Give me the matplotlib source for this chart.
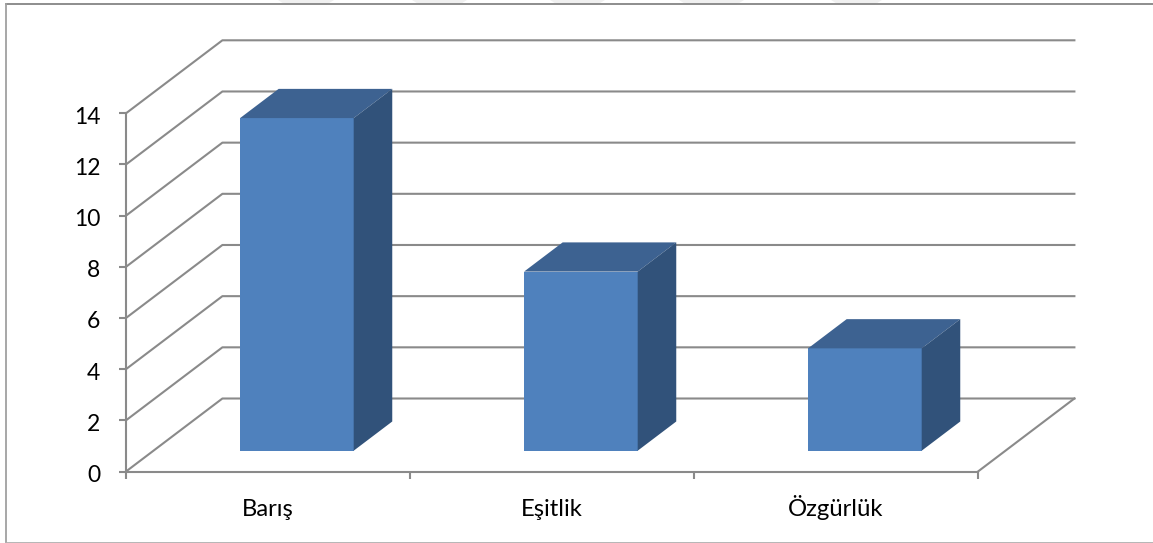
import matplotlib
matplotlib.use('Agg')
import matplotlib.pyplot as plt
from matplotlib.transforms import ScaledTranslation

# Values
categories = ['Barış', 'Eşitlik', 'Özgürlük']
values = [13, 7, 4]
y_ticks = [0, 2, 4, 6, 8, 10, 12, 14]

W, H = 1153, 543
GRID = '#8a8a8a'
FRONT = '#4f81bd'
TOP = '#3d6291'
SIDE = '#31527a'

# Oblique offset of the back wall, in data units
DX = 96.4 / 284
DY = 73 / (358.2 / 14)
BAR_W = 0.4
BAR_D0 = 0.285  # how far back the bars start (0-1)
BAR_D1 = 0.685  # how far back the bars end


def proj(x, y, d):
    return x + DX * d, y + DY * d


def face(ax, pts, color):
    xs, ys = zip(*[proj(*p) for p in pts])
    ax.fill(xs, ys, color=color, lw=0, clip_on=False, zorder=3)


plt.rcParams['font.family'] = ['Lato', 'DejaVu Sans']

fig = plt.figure(figsize=(W / 100, H / 100), dpi=100)
ax = fig.add_axes([126 / W, (H - 471.5) / H, 852 / W, 358.2 / H])
ax.set_xlim(0, 3)
ax.set_ylim(0, 14)
ax.patch.set_alpha(0)

# Side wall and back wall lines
for v in y_ticks:
    x0, y0 = proj(0, v, 0)
    x1, y1 = proj(0, v, 1)
    x2, y2 = proj(3, v, 1)
    ax.plot([x0, x1, x2], [y0, y1, y2], color=GRID, lw=1.5, clip_on=False, zorder=1)

# Right edge of the floor
x0, y0 = proj(3, 0, 0)
x1, y1 = proj(3, 0, 1)
ax.plot([x0, x1], [y0, y1], color=GRID, lw=1.5, clip_on=False, zorder=1)

# Bars
for i, val in enumerate(values):
    l = i + 0.5 - BAR_W / 2 + 0.005
    r = l + BAR_W
    face(ax, [(l, 0, BAR_D0), (r, 0, BAR_D0), (r, val, BAR_D0), (l, val, BAR_D0)], FRONT)
    face(ax, [(l, val, BAR_D0), (r, val, BAR_D0), (r, val, BAR_D1), (l, val, BAR_D1)], TOP)
    face(ax, [(r, 0, BAR_D0), (r, 0, BAR_D1), (r, val, BAR_D1), (r, val, BAR_D0)], SIDE)

# Axes
for s in ['top', 'right']:
    ax.spines[s].set_visible(False)
for s in ['left', 'bottom']:
    ax.spines[s].set_color(GRID)
    ax.spines[s].set_linewidth(1.5)
ax.set_yticks(y_ticks)
ax.set_xticks([0, 1, 2, 3])
ax.set_xticklabels([])
ax.set_xticks([0.5, 1.5, 2.5], minor=True)
ax.set_xticklabels(categories, minor=True)
ax.tick_params(axis='both', which='major', length=5, width=1.5, color=GRID, labelsize=16.5)
ax.tick_params(axis='y', which='major', pad=13.5)
ax.tick_params(axis='x', which='minor', length=0, labelsize=17.2, pad=31.7)
for label in ax.get_xticklabels(minor=True):
    label.set_verticalalignment('baseline')
shift = ScaledTranslation(0, -2 / 100, fig.dpi_scale_trans)
for label in ax.get_yticklabels():
    label.set_transform(label.get_transform() + shift)

# Outer chart frame, open on the right, with the pale shapes showing through at the top
frame = fig.add_axes([0, 0, 1, 1], zorder=-1)
frame.set_xlim(0, W)
frame.set_ylim(H, 0)
frame.axis('off')
for a, b in [(278, 334), (412, 467), (550, 605), (679, 744), (831, 882)]:
    frame.fill([a, b, b - 8, a + 8], [0, 0, 5, 5], color='#f0f0f0', lw=0)
frame.plot([W, 5.5], [3.5, 3.5], color='#858585', lw=1.3)
frame.plot([5.5, 5.5], [3.5, 542.5], color='#a0a0a0', lw=1.3)
frame.plot([5.5, W], [542.5, 542.5], color='#b0b0b0', lw=1.3)

fig.savefig('out.png', dpi=100)
